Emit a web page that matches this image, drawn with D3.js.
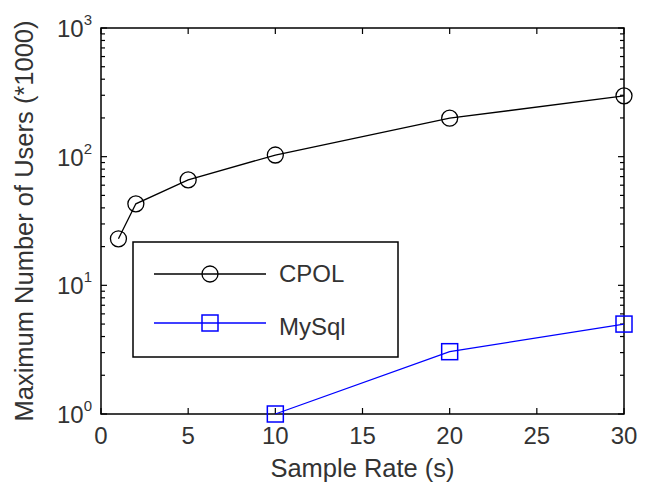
<!DOCTYPE html>
<html>
<head>
<meta charset="utf-8">
<script src="https://cdnjs.cloudflare.com/ajax/libs/d3/7.8.5/d3.min.js"></script>
<style>
  body { margin: 0; background: #fff; }
  text { font-family: "Liberation Sans", Arial, sans-serif; fill: #333; }
</style>
</head>
<body>
<div id="chart"></div>
<script>
// data
var cpolX = [1, 2, 5, 10, 20, 30];
var cpolY = [23, 43, 66, 103, 199, 297];
var mysqlX = [10, 20, 30];
var mysqlY = [1, 3.05, 5];
var xTicks = [0, 5, 10, 15, 20, 25, 30];
var yTicks = [1, 10, 100, 1000];
var seriesNames = ["CPOL", "MySql"];

var width = 647, height = 484;
var margin = { left: 101, right: 23, top: 28, bottom: 70 };
var plotW = width - margin.left - margin.right;
var plotH = height - margin.top - margin.bottom;

var svg = d3.select("#chart").append("svg")
    .attr("width", width)
    .attr("height", height);

var x = d3.scaleLinear().domain([0, 30]).range([margin.left, margin.left + plotW]);
var y = d3.scaleLog().domain([1, 1000]).range([margin.top + plotH, margin.top]);

// minor log ticks
var minor = [];
for (var d = 1; d < 1000; d *= 10) {
    for (var k = 2; k <= 9; k++) minor.push(d * k);
}

var g = svg.append("g");

// box
g.append("rect")
    .attr("x", x(0)).attr("y", y(1000))
    .attr("width", plotW).attr("height", plotH)
    .attr("fill", "none").attr("stroke", "#000").attr("stroke-width", 1.5);

// x ticks (bottom and top, inward)
xTicks.forEach(function(t) {
    g.append("line").attr("x1", x(t)).attr("x2", x(t))
        .attr("y1", y(1)).attr("y2", y(1) - 6).attr("stroke", "#000").attr("stroke-width", 1.2);
    g.append("line").attr("x1", x(t)).attr("x2", x(t))
        .attr("y1", y(1000)).attr("y2", y(1000) + 6).attr("stroke", "#000").attr("stroke-width", 1.2);
    g.append("text").attr("x", x(t)).attr("y", 444)
        .attr("text-anchor", "middle").style("font-size", "24px").text(t);
});

// y ticks major + minor, both sides
yTicks.concat(minor).forEach(function(t) {
    var len = yTicks.indexOf(t) >= 0 ? 6 : 4;
    g.append("line").attr("x1", x(0)).attr("x2", x(0) + len)
        .attr("y1", y(t)).attr("y2", y(t)).attr("stroke", "#000").attr("stroke-width", 1.2);
    g.append("line").attr("x1", x(30)).attr("x2", x(30) - len)
        .attr("y1", y(t)).attr("y2", y(t)).attr("stroke", "#000").attr("stroke-width", 1.2);
});

yTicks.forEach(function(t) {
    var lbl = g.append("text").attr("x", 57).attr("y", y(t) + 9);
    lbl.append("tspan").style("font-size", "24px").text("10");
    lbl.append("tspan").attr("dy", -12).style("font-size", "15px").text(Math.round(Math.log10(t)));
});

// axis titles
svg.append("text")
    .attr("x", x(15)).attr("y", 477)
    .attr("text-anchor", "middle").style("font-size", "25.5px")
    .text("Sample Rate (s)");

svg.append("text")
    .attr("transform", "translate(33," + (margin.top + plotH / 2) + ") rotate(-90)")
    .attr("text-anchor", "middle").style("font-size", "25.5px")
    .text("Maximum Number of Users (*1000)");

// lines
var line = d3.line().x(function(d) { return x(d[0]); }).y(function(d) { return y(d[1]); });

var cpol = cpolX.map(function(v, i) { return [v, cpolY[i]]; });
var mysql = mysqlX.map(function(v, i) { return [v, mysqlY[i]]; });

svg.append("path").datum(cpol).attr("d", line)
    .attr("fill", "none").attr("stroke", "#000").attr("stroke-width", 1.3);
svg.selectAll("circle.cpol").data(cpol).enter().append("circle")
    .attr("class", "cpol")
    .attr("cx", function(d) { return x(d[0]); })
    .attr("cy", function(d) { return y(d[1]); })
    .attr("r", 8).attr("fill", "none").attr("stroke", "#000").attr("stroke-width", 1.3);

svg.append("path").datum(mysql).attr("d", line)
    .attr("fill", "none").attr("stroke", "#0000ff").attr("stroke-width", 1.3);
svg.selectAll("rect.mysql").data(mysql).enter().append("rect")
    .attr("class", "mysql")
    .attr("x", function(d) { return x(d[0]) - 8; })
    .attr("y", function(d) { return y(d[1]) - 8; })
    .attr("width", 16).attr("height", 16)
    .attr("fill", "none").attr("stroke", "#0000ff").attr("stroke-width", 1.5);

// legend
var lg = svg.append("g");
lg.append("rect").attr("x", 133).attr("y", 242).attr("width", 265).attr("height", 115)
    .attr("fill", "#fff").attr("stroke", "#000").attr("stroke-width", 1.5);

lg.append("line").attr("x1", 154).attr("x2", 266).attr("y1", 274).attr("y2", 274)
    .attr("stroke", "#000").attr("stroke-width", 1.3);
lg.append("circle").attr("cx", 210).attr("cy", 274).attr("r", 8)
    .attr("fill", "none").attr("stroke", "#000").attr("stroke-width", 1.3);
lg.append("text").attr("x", 279).attr("y", 282).style("font-size", "24px").text(seriesNames[0]);

lg.append("line").attr("x1", 154).attr("x2", 266).attr("y1", 323).attr("y2", 323)
    .attr("stroke", "#0000ff").attr("stroke-width", 1.3);
lg.append("rect").attr("x", 202).attr("y", 315).attr("width", 16).attr("height", 16)
    .attr("fill", "none").attr("stroke", "#0000ff").attr("stroke-width", 1.5);
lg.append("text").attr("x", 279).attr("y", 335).style("font-size", "24px").text(seriesNames[1]);
</script>
</body>
</html>
